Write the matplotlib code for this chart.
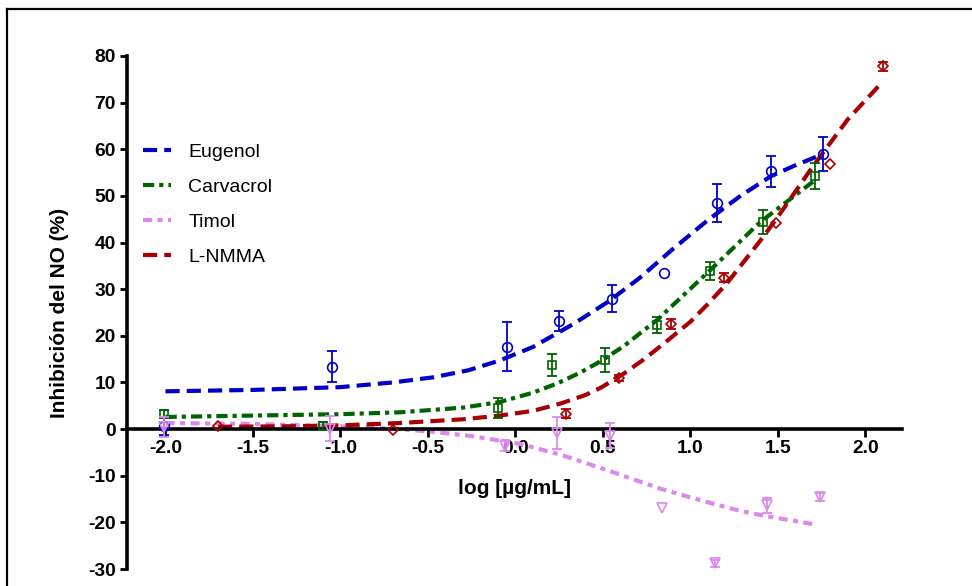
# -*- coding: utf-8 -*-
"""Inhibición del NO frente a log de concentración (Eugenol, Carvacrol, Timol, L-NMMA)."""

import matplotlib

matplotlib.use("Agg")
import matplotlib.pyplot as plt
from matplotlib.lines import Line2D

plt.rcParams["font.family"] = ["Liberation Sans", "DejaVu Sans"]
plt.rcParams["axes.unicode_minus"] = False

# measured points (log conc, % inhibition, error)
eug_x = [-2.01, -1.05, -0.05, 0.25, 0.55, 0.85, 1.15, 1.46, 1.76]
eug_y = [0.6, 13.4, 17.7, 23.2, 28.0, 33.4, 48.5, 55.3, 59.0]
eug_err = [1.8, 3.4, 5.2, 2.2, 2.9, 0.0, 4.1, 3.3, 3.7]

car_x = [-2.01, -1.10, -0.10, 0.21, 0.51, 0.81, 1.11, 1.415, 1.71]
car_y = [3.2, 0.7, 4.5, 13.7, 14.8, 22.3, 33.9, 44.4, 54.3]
car_err = [0.8, 0.8, 2.1, 2.3, 2.5, 1.8, 1.9, 2.6, 2.8]

tim_x = [-2.01, -1.06, -0.06, 0.24, 0.54, 0.84, 1.14, 1.44, 1.74]
tim_y = [0.4, 0.1, -3.6, -0.9, -1.4, -17.0, -28.8, -16.3, -14.6]
tim_err = [2.2, 2.7, 1.2, 3.4, 2.7, 0.0, 0.8, 1.6, 0.8]

nmma_x = [-1.70, -0.70, 0.29, 0.59, 0.89, 1.19, 1.49, 1.80, 2.10]
nmma_y = [0.6, -0.2, 3.3, 10.9, 22.5, 32.5, 44.2, 56.8, 77.8]
nmma_err = [0.0, 0.0, 1.0, 0.6, 1.1, 1.0, 0.0, 0.0, 1.0]

# fitted curves
eug_cx = [-2.0, -1.5, -1.0, -0.7, -0.47, -0.27, -0.09, 0.1, 0.33, 0.53, 0.71,
          0.9, 1.1, 1.29, 1.46, 1.59, 1.76]
eug_cy = [8.1, 8.4, 9.0, 10.0, 11.1, 12.6, 14.7, 17.6, 22.5, 27.3, 32.4,
          38.6, 44.8, 50.1, 54.2, 56.4, 59.0]

car_cx = [-2.0, -1.5, -1.0, -0.66, -0.3, -0.09, 0.1, 0.24, 0.37, 0.49, 0.62,
          0.81, 1.1, 1.4, 1.72]
car_cy = [2.6, 2.9, 3.2, 3.6, 4.6, 5.8, 7.8, 9.8, 12.1, 14.6, 17.8,
          23.4, 33.6, 44.4, 53.6]

tim_cx = [-2.0, -1.5, -1.0, -0.7, -0.49, -0.25, 0.03, 0.26, 0.54, 0.83, 1.09,
          1.29, 1.44, 1.72]
tim_cy = [1.3, 1.1, 0.6, 0.1, -0.5, -1.5, -3.2, -5.5, -9.0, -12.8, -15.6,
          -17.6, -18.7, -20.5]

nmma_cx = [-1.7, -1.3, -1.0, -0.66, -0.3, -0.09, 0.1, 0.26, 0.4, 0.49, 0.62,
           0.74, 0.87, 1.0, 1.1, 1.21, 1.4, 1.5, 1.7, 1.9, 2.1]
nmma_cy = [0.5, 0.6, 0.8, 1.3, 2.1, 2.9, 3.9, 5.5, 7.3, 8.9, 11.9,
           15.1, 19.0, 23.0, 26.8, 31.3, 40.4, 45.5, 56.3, 66.4, 74.5]

BLUE = "#0000C8"
GREEN = "#006400"
VIOLET = "#DD88EE"
RED = "#A80000"

series = [
    ("Eugenol", BLUE, "o", 7.0, (0, (3.4, 1.7)), eug_x, eug_y, eug_err, eug_cx, eug_cy),
    ("Carvacrol", GREEN, "s", 6.0, (0, (2.7, 1.2, 1.0, 1.2)), car_x, car_y, car_err, car_cx, car_cy),
    ("Timol", VIOLET, "v", 7.5, (0, (2.2, 1.3, 1.2, 1.3)), tim_x, tim_y, tim_err, tim_cx, tim_cy),
    ("L-NMMA", RED, "D", 5.5, (0, (3.4, 1.7)), nmma_x, nmma_y, nmma_err, nmma_cx, nmma_cy),
]

fig = plt.figure(figsize=(9.72, 5.86), dpi=100)
ax = fig.add_axes([127 / 972, 17 / 586, 775 / 972, 513 / 586])

handles = []
for name, color, marker, ms, ls, x, y, err, cx, cy in series:
    line, = ax.plot(cx, cy, color=color, lw=3.0, linestyle=ls,
                    dash_capstyle="butt", label=name, zorder=2)
    handles.append(line)
    ax.plot(x, y, linestyle="none", marker=marker, ms=ms, mfc="none",
            mec=color, mew=1.2, zorder=3)
    # error bars only where the picture shows them
    ex = [xi for xi, e in zip(x, err) if e > 0]
    ey = [yi for yi, e in zip(y, err) if e > 0]
    ee = [e for e in err if e > 0]
    ax.errorbar(ex, ey, yerr=ee, fmt="none", ecolor=color, elinewidth=1.3,
                capsize=3.4, capthick=1.3, zorder=3)

ax.set_xlim(-2.22, 2.21)
ax.set_ylim(-30, 80)

ax.spines["top"].set_visible(False)
ax.spines["right"].set_visible(False)
ax.spines["bottom"].set_position(("data", 0))
ax.spines["left"].set_bounds(-30, 80)
for side in ("left", "bottom"):
    ax.spines[side].set_linewidth(2.6)

ax.set_xticks([-2.0, -1.5, -1.0, -0.5, 0.0, 0.5, 1.0, 1.5, 2.0])
ax.set_xticklabels(["%.1f" % v for v in ax.get_xticks()])
ax.set_yticks(range(-30, 90, 10))
ax.tick_params(axis="both", width=2.0, labelsize=13.8, direction="out")
ax.tick_params(axis="x", length=5.5, pad=2)
ax.tick_params(axis="y", length=5.0, pad=3)
for lab in ax.get_xticklabels() + ax.get_yticklabels():
    lab.set_fontweight("bold")

ax.set_xlabel("log [µg/mL]", fontsize=15, fontweight="bold")
ax.xaxis.set_label_coords(0.5, 0.156)
ax.xaxis.label.set_va("center")
ax.set_ylabel("Inhibición del NO (%)", fontsize=15, fontweight="bold")
ax.yaxis.set_label_coords(-0.075, 0.5)

ax.legend(handles=handles, loc="upper left", bbox_to_anchor=(0.02, 0.83),
          frameon=False, fontsize=14, handlelength=1.45, handletextpad=0.9,
          labelspacing=0.9, borderpad=0, borderaxespad=0)

# outer frame of the original figure
fig.add_artist(Line2D([7 / 972, 1.0], [1 - 9 / 586, 1 - 9 / 586],
                      transform=fig.transFigure, color="black", lw=1.6))
fig.add_artist(Line2D([7 / 972, 7 / 972], [0.0, 1 - 9 / 586],
                      transform=fig.transFigure, color="black", lw=1.6))

fig.savefig("out.png", dpi=100)
